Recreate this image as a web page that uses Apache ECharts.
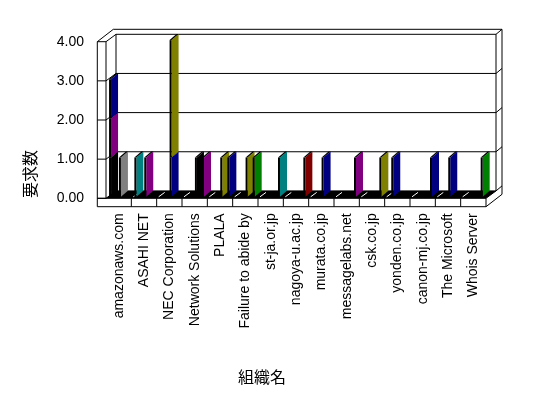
<!DOCTYPE html>
<html><head><meta charset="utf-8">
<script src="https://cdn.jsdelivr.net/npm/echarts/dist/echarts.min.js"></script>
<style>html,body{margin:0;padding:0;background:#fff}#c{width:548px;height:398px}</style>
</head><body><div id="c"></div>
<script>
const categories = ['amazonaws.com','ASAHI NET','NEC Corporation','Network Solutions','PLALA','Failure to abide by','st-ja.or.jp','nagoya-u.ac.jp','murata.co.jp','messagelabs.net','csk.co.jp','yonden.co.jp','canon-mj.co.jp','The Microsoft','Whois Server'];
const yTicks = [0, 1, 2, 3, 4];
const yTitle = '要求数';
const xTitle = '組織名';

// slot A (stacked in this order)
const slotA_black  = [1,0,0,0,0,0,0,0,0,0,0,0,0,0,0];
const slotA_purple = [1,0,0,0,0,0,0,0,0,0,0,0,0,0,0];
const slotA_navy   = [1,0,0,0,0,0,0,0,0,0,0,0,0,0,0];
const slotA_teal   = [0,1,0,0,0,0,0,0,0,0,0,0,0,0,0];
// slot B
const slotB_navy   = [0,0,0,0,0,0,0,0,0,0,0,1,0,0,0];
// slot C
const slotC_gray   = [1,0,0,0,0,0,0,0,0,0,0,0,0,0,0];
const slotC_purple = [0,1,0,0,0,0,0,0,0,0,0,0,0,0,0];
const slotC_navy   = [0,0,1,0,0,0,0,0,1,0,0,0,0,1,0];
const slotC_olive  = [0,0,3,0,1,1,0,0,0,0,0,0,0,0,0];
const slotC_black  = [0,0,0,1,0,0,0,0,0,0,0,0,0,0,0];
// slot D
const slotD_purple = [0,0,0,1,0,0,0,0,0,1,0,0,0,0,0];
const slotD_navy   = [0,0,0,0,1,0,0,0,0,0,0,0,1,0,0];
const slotD_green  = [0,0,0,0,0,1,0,0,0,0,0,0,0,0,1];
const slotD_teal   = [0,0,0,0,0,0,1,0,0,0,0,0,0,0,0];
const slotD_maroon = [0,0,0,0,0,0,0,1,0,0,0,0,0,0,0];
const slotD_olive  = [0,0,0,0,0,0,0,0,0,0,1,0,0,0,0];

const COL = {black:'#000000', purple:'#800080', navy:'#000080', teal:'#008080', gray:'#808080', olive:'#808000', green:'#008000', maroon:'#800000'};
const slots = [
  {frac:0.12, layers:[[slotA_black,'black'],[slotA_purple,'purple'],[slotA_navy,'navy'],[slotA_teal,'teal']]},
  {frac:0.26, layers:[[slotB_navy,'navy']]},
  {frac:0.51, layers:[[slotC_gray,'gray'],[slotC_purple,'purple'],[slotC_navy,'navy'],[slotC_olive,'olive'],[slotC_black,'black']]},
  {frac:0.79, layers:[[slotD_purple,'purple'],[slotD_navy,'navy'],[slotD_green,'green'],[slotD_teal,'teal'],[slotD_maroon,'maroon'],[slotD_olive,'olive']]}
];

const DX = 10, DY = -7.4, OX = 16, OY = -12.4, WALL = 8.7, FH = 8.4;
const BAR_DY = -1.6, FW = 2, SW = 7, SK = -6;

function renderFrame(params, api) {
  const n = categories.length;
  const bw = api.size([1, 0])[0];
  const x0 = api.coord([0, 0])[0] - bw / 2;
  const x1 = api.coord([n - 1, 0])[0] + bw / 2;
  const y = v => api.coord([0, v])[1];
  const y0 = y(yTicks[0]), y4 = y(yTicks[yTicks.length - 1]);
  const ch = [];
  const line = (a, b, c, d, col) => ch.push({type:'line', shape:{x1:a, y1:b, x2:c, y2:d}, style:{stroke: col || '#000', lineWidth: 1}});
  const poly = (pts, fill) => ch.push({type:'polygon', shape:{points:pts}, style:{fill: fill, stroke: null}});
  poly([[x0, y0], [x1, y0], [x1 + DX, y0 + DY], [x0 + DX, y0 + DY]], '#000');
  for (let i = 1; i < n; i++) {
    const xf = x0 + i * bw;
    line(xf + 2, y0 - 1.5, xf + DX - 2, y0 + DY + 1.5, '#fff');
  }
  yTicks.forEach(v => {
    const yy = y(v);
    line(x0 - WALL, yy, x0, yy);
    line(x0, yy, x0 + DX, yy + DY);
    line(x0 + DX, yy + DY, x1 + DX, yy + DY);
    line(x1 + DX, yy + DY, x1 + OX, yy + OY);
  });
  line(x0 - WALL, y4, x0 - WALL, y0 + FH);
  line(x0, y4, x0, y0);
  line(x0 + DX, y4 + DY, x0 + DX, y0 + DY);
  line(x1 + DX, y4 + DY, x1 + DX, y0 + DY);
  line(x1 + OX, y4 + OY, x1 + OX, y0 + FH + OY);
  line(x0 - WALL, y4, x0 - WALL + OX, y4 + OY);
  line(x0 - WALL + OX, y4 + OY, x1 + OX, y4 + OY);
  line(x0 - WALL, y0, x1, y0);
  line(x0 - WALL, y0 + FH, x1, y0 + FH);
  for (let i = 1; i <= n; i++) line(x0 + i * bw, y0, x0 + i * bw, y0 + FH);
  line(x1, y0, x1 + DX, y0 + DY);
  line(x1, y0 + FH, x1 + OX, y0 + FH + OY);
  return {type:'group', children: ch};
}

function barRender(frac, color) {
  return function (params, api) {
    const cat = api.value(0), b = api.value(1), t = api.value(2);
    const bw = api.size([1, 0])[0];
    const pb = api.coord([cat, b]), pt = api.coord([cat, t]);
    const xf = pb[0] - bw / 2 + frac * bw;
    const yb = pb[1] + BAR_DY, yt = pt[1] + BAR_DY;
    return {type:'group', children:[
      {type:'polygon', shape:{points:[[xf + FW, yb], [xf + FW, yt], [xf + FW + SW, yt + SK], [xf + FW + SW, yb + SK]]}, style:{fill: color}},
      {type:'rect', shape:{x: xf, y: yt, width: FW, height: yb - yt}, style:{fill:'#000'}},
      {type:'polygon', shape:{points:[[xf, yt], [xf + FW, yt], [xf + FW + SW, yt + SK], [xf + SW, yt + SK]]}, style:{fill:'#000'}}
    ]};
  };
}

const series = [{
  type:'custom', name:'frame', renderItem: renderFrame, data:[[0, 0]], clip:false, silent:true, z:1
}];
slots.forEach(s => {
  const base = categories.map(() => 0);
  s.layers.forEach(([vals, cname]) => {
    const data = [];
    vals.forEach((v, i) => { if (v > 0) data.push([i, base[i], base[i] + v]); base[i] += v; });
    series.push({type:'custom', name: cname, renderItem: barRender(s.frac, COL[cname]), data: data, clip:false, silent:true, z:2,
      encode:{x:0, y:[1, 2]}});
  });
});

const chart = echarts.init(document.getElementById('c'), null, {renderer:'canvas'});
chart.setOption({
  backgroundColor:'#ffffff',
  animation:false,
  grid:{left:106, right:62, top:41.7, bottom:199.7, containLabel:false},
  xAxis:{type:'category', data:categories, boundaryGap:true,
    axisLine:{show:false}, axisTick:{show:false}, splitLine:{show:false},
    axisLabel:{rotate:90, margin:15, interval:0, fontSize:14, color:'#000', fontFamily:'Liberation Sans'}},
  yAxis:{type:'value', min:0, max:4, interval:1,
    axisLine:{show:false}, axisTick:{show:false}, splitLine:{show:false},
    axisLabel:{margin:22, fontSize:14, color:'#000', fontFamily:'Liberation Sans', formatter: v => v.toFixed(2)}},
  graphic:[
    {type:'text', x:262, y:377, style:{text:xTitle, font:'16px "Noto Sans CJK JP"', fill:'#000', textAlign:'center', textVerticalAlign:'middle'}},
    {type:'text', x:30, y:174, rotation:Math.PI/2, style:{text:yTitle, font:'16px "Noto Sans CJK JP"', fill:'#000', textAlign:'center', textVerticalAlign:'middle'}}
  ],
  series: series
});
</script>
</body></html>
